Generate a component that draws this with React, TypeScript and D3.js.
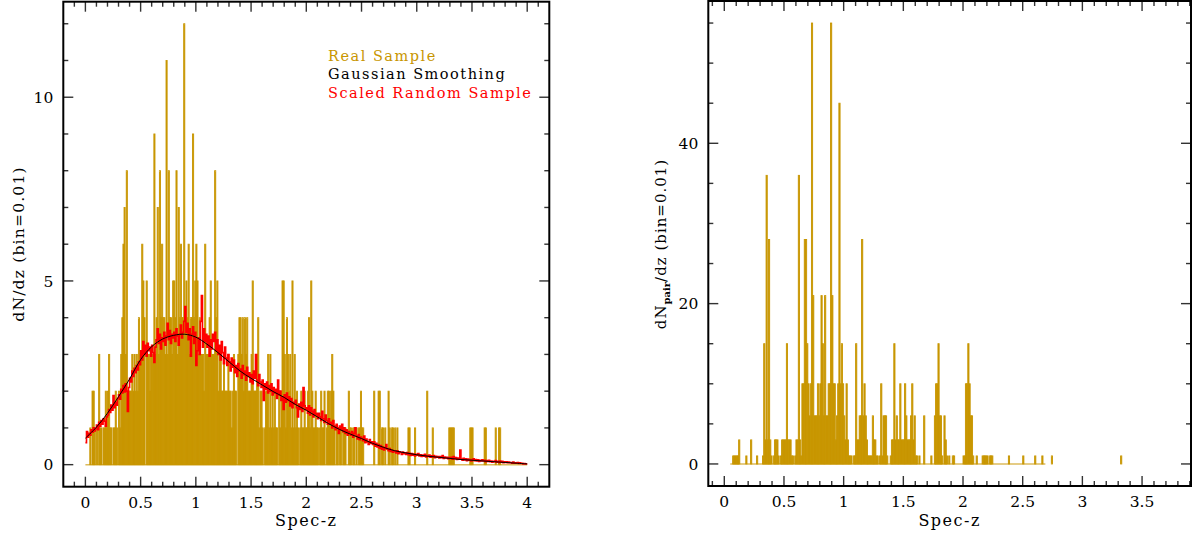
import React from "react";
import * as d3 from "d3";

const W = 1195;
const H = 537;
const BIN = 0.01;
const GOLD = "#c89600";
const GOLD_LIGHT = "#dcbb5c";
const FONT = "'DejaVu Serif', serif";

// Real sample: counts per 0.01 bin, z = 0.00 .. 3.99 (10 bins per row)
const realCounts: number[] = [
  0, 0, 0, 0, 1, 0, 2, 2, 1, 0,
  1, 0, 3, 1, 1, 0, 1, 1, 2, 1,
  2, 3, 1, 1, 0, 1, 1, 2, 1, 0,
  2, 1, 3, 4, 6, 7, 3, 8, 2, 2,
  2, 2, 3, 2, 3, 2, 3, 2, 4, 3,
  3, 6, 5, 4, 0, 5, 3, 3, 2, 3,
  3, 3, 9, 3, 4, 7, 3, 8, 4, 6,
  4, 4, 3, 11, 3, 8, 4, 4, 3, 5,
  5, 4, 8, 3, 7, 4, 6, 4, 4, 12,
  4, 5, 4, 6, 3, 4, 4, 9, 4, 5,
  6, 5, 3, 4, 3, 3, 3, 2, 6, 3,
  3, 3, 4, 5, 3, 3, 3, 8, 4, 5,
  2, 3, 3, 2, 2, 3, 2, 2, 2, 3,
  2, 2, 1, 2, 3, 2, 2, 0, 3, 4,
  4, 3, 4, 2, 4, 3, 4, 2, 2, 2,
  3, 5, 2, 2, 2, 3, 4, 1, 2, 2,
  1, 0, 1, 2, 2, 3, 1, 3, 1, 2,
  1, 2, 1, 1, 0, 2, 1, 2, 5, 5,
  3, 1, 4, 3, 2, 3, 1, 5, 1, 3,
  1, 2, 1, 0, 1, 2, 1, 1, 2, 1,
  1, 2, 4, 1, 5, 2, 1, 1, 2, 1,
  1, 0, 1, 2, 1, 1, 2, 0, 1, 2,
  2, 1, 2, 3, 2, 1, 0, 1, 1, 0,
  1, 1, 0, 1, 1, 1, 0, 0, 2, 1,
  1, 0, 1, 1, 0, 1, 0, 1, 1, 2,
  1, 1, 0, 0, 0, 0, 0, 0, 0, 0,
  0, 2, 0, 0, 0, 2, 2, 0, 1, 1,
  0, 1, 0, 0, 2, 1, 0, 1, 1, 0,
  1, 0, 1, 0, 0, 0, 0, 0, 0, 0,
  0, 0, 1, 1, 0, 0, 0, 0, 1, 0,
  0, 0, 0, 0, 0, 0, 0, 0, 0, 2,
  0, 0, 0, 0, 1, 0, 0, 0, 0, 0,
  0, 0, 0, 0, 0, 0, 0, 0, 0, 1,
  1, 1, 1, 1, 0, 0, 0, 0, 0, 0,
  0, 0, 0, 0, 0, 0, 0, 0, 1, 1,
  1, 0, 0, 0, 0, 0, 0, 0, 0, 0,
  0, 1, 1, 0, 0, 0, 0, 0, 0, 0,
  0, 1, 0, 0, 1, 1, 0, 0, 0, 0,
  0, 0, 0, 0, 0, 0, 0, 0, 0, 0,
  0, 0, 0, 0, 0, 0, 0, 0, 0, 0,
];

// Scaled random sample: value per 0.01 bin, z = 0.00 .. 3.99
const randomScaled: number[] = [
  0.60, 0.90, 0.75, 0.85, 0.80, 0.95, 0.88, 1.00, 0.92, 0.98,
  1.08, 0.95, 1.15, 1.05, 1.20, 1.10, 1.25, 1.18, 1.05, 1.30,
  1.35, 1.50, 1.42, 1.62, 1.48, 1.88, 1.55, 1.70, 1.62, 1.80,
  1.90, 1.78, 2.05, 1.95, 2.15, 1.98, 2.20, 2.00, 1.45, 2.10,
  2.35, 2.25, 2.55, 2.40, 2.62, 2.50, 2.70, 2.58, 2.80, 2.72,
  3.10, 2.85, 3.35, 3.00, 3.25, 2.95, 3.30, 3.10, 3.20, 2.95,
  3.25, 3.05, 2.78, 3.20, 3.40, 3.70, 3.30, 3.55, 3.15, 3.45,
  3.35, 3.60, 3.25, 3.50, 3.85, 3.40, 3.65, 3.30, 3.55, 3.45,
  3.60, 3.35, 3.70, 3.50, 3.25, 3.55, 3.80, 3.45, 3.60, 3.90,
  4.30, 3.60, 3.85, 3.40, 3.70, 2.95, 3.55, 3.75, 3.30, 3.60,
  2.70, 3.10, 3.45, 3.00, 3.90, 4.60, 3.20, 3.70, 3.35, 3.55,
  3.20, 3.50, 2.95, 3.40, 3.15, 3.55, 3.35, 3.60, 3.10, 3.40,
  3.00, 3.25, 2.85, 3.35, 3.05, 2.75, 3.20, 2.90, 2.70, 3.00,
  2.80, 2.55, 2.90, 2.65, 2.85, 2.50, 2.70, 2.40, 2.75, 2.55,
  2.60, 2.35, 2.70, 2.45, 2.55, 2.30, 2.65, 2.40, 2.50, 2.25,
  2.45, 2.20, 2.55, 2.35, 3.00, 2.30, 2.15, 2.45, 2.25, 2.10,
  2.30, 1.75, 2.20, 2.05, 2.25, 1.95, 2.15, 2.00, 2.20, 1.90,
  2.10, 1.95, 2.05, 1.80, 2.30, 1.90, 2.00, 1.75, 1.85, 1.50,
  1.90, 1.70, 1.95, 1.75, 1.85, 1.60, 1.80, 1.55, 1.70, 1.65,
  1.75, 1.55, 1.30, 1.65, 1.50, 1.70, 1.45, 2.10, 1.60, 1.50,
  1.55, 1.40, 1.60, 1.35, 1.55, 1.45, 1.30, 1.50, 1.35, 1.40,
  1.25, 1.40, 1.30, 1.20, 1.45, 1.25, 1.15, 1.35, 1.20, 1.10,
  1.25, 1.10, 1.15, 1.00, 1.20, 1.05, 0.95, 1.10, 1.00, 0.85,
  1.05, 0.95, 1.10, 0.90, 1.00, 0.85, 0.95, 0.80, 0.90, 0.85,
  0.80, 0.90, 0.75, 0.85, 1.00, 0.78, 0.70, 0.82, 0.68, 0.75,
  0.72, 0.65, 0.78, 0.60, 0.70, 0.62, 0.55, 0.68, 0.58, 0.62,
  0.55, 0.62, 0.50, 0.58, 0.48, 0.55, 0.45, 0.52, 0.42, 0.48,
  0.40, 0.46, 0.55, 0.42, 0.38, 0.44, 0.36, 0.40, 0.34, 0.38,
  0.36, 0.32, 0.38, 0.30, 0.35, 0.33, 0.28, 0.34, 0.30, 0.32,
  0.28, 0.33, 0.27, 0.31, 0.25, 0.30, 0.26, 0.29, 0.24, 0.28,
  0.26, 0.30, 0.24, 0.27, 0.22, 0.26, 0.23, 0.28, 0.21, 0.25,
  0.22, 0.26, 0.20, 0.24, 0.21, 0.25, 0.19, 0.23, 0.20, 0.22,
  0.18, 0.22, 0.19, 0.25, 0.17, 0.21, 0.18, 0.20, 0.16, 0.19,
  0.17, 0.20, 0.15, 0.22, 0.16, 0.19, 0.14, 0.18, 0.15, 0.40,
  0.15, 0.12, 0.17, 0.13, 0.16, 0.11, 0.15, 0.12, 0.14, 0.10,
  0.13, 0.16, 0.11, 0.14, 0.10, 0.13, 0.09, 0.12, 0.10, 0.13,
  0.10, 0.12, 0.08, 0.11, 0.09, 0.12, 0.08, 0.10, 0.07, 0.09,
  0.08, 0.11, 0.07, 0.09, 0.06, 0.10, 0.07, 0.09, 0.05, 0.08,
  0.06, 0.08, 0.05, 0.07, 0.05, 0.06, 0.04, 0.07, 0.04, 0.05,
  0.04, 0.06, 0.03, 0.05, 0.03, 0.04, 0.02, 0.03, 0.02, 0.02,
];

// Gaussian smoothing curve
const smoothZ: number[] = [
  0.0, 0.1, 0.2, 0.3, 0.4, 0.5, 0.6, 0.7, 0.8, 0.9, 1.0, 1.1, 1.2, 1.3, 1.4,
  1.5, 1.6, 1.7, 1.8, 1.9, 2.0, 2.1, 2.2, 2.3, 2.4, 2.5, 2.6, 2.7, 2.8, 2.9,
  3.0, 3.1, 3.2, 3.3, 3.4, 3.5, 3.6, 3.7, 3.8, 3.9, 4.0,
];
const smoothV: number[] = [
  0.72, 1.02, 1.40, 1.85, 2.33, 2.86, 3.21, 3.42, 3.52, 3.55, 3.47, 3.28, 3.05,
  2.80, 2.55, 2.35, 2.17, 1.99, 1.83, 1.64, 1.48, 1.30, 1.12, 0.96, 0.83, 0.71,
  0.58, 0.47, 0.38, 0.32, 0.27, 0.23, 0.20, 0.17, 0.14, 0.12, 0.10, 0.08, 0.06,
  0.04, 0.02,
];

// Pair counts: bin index (z / 0.01) and dN_pair in that bin
const pairBins: number[] = [
  7, 8, 9, 10, 11, 12, 18, 22, 27, 32, 33, 34, 35, 36, 37, 38, 39,
  41, 42, 43, 44, 45, 47, 48, 49, 50, 51, 52, 53, 54, 55, 56, 57,
  59, 60, 61, 62, 63, 64, 65, 66, 67, 68, 69, 70, 71, 72, 73, 74, 75, 76, 77, 78, 79,
  80, 81, 82, 83, 84, 85, 86, 87, 88, 89, 90, 91, 92, 93, 94, 95, 96, 97, 98, 99,
  100, 101, 102, 103, 104, 105, 106, 108, 109,
  110, 111, 112, 113, 114, 115, 116, 117, 118, 119, 120, 121, 122, 123, 124, 125, 126, 127, 128,
  130, 131, 132, 133, 134, 135, 136, 139, 140, 141, 142, 143, 144, 145, 146, 147, 148, 149,
  150, 151, 152, 153, 154, 155, 156, 157, 158, 159, 160, 161, 163, 167, 173,
  176, 177, 178, 179, 180, 181, 182, 184, 185, 186, 188, 191, 192,
  200, 201, 202, 203, 204, 205, 206, 207, 208, 211, 216, 217, 218, 219, 220, 222, 223, 224,
  238, 250, 260, 266, 274, 332,
];
const pairCounts: number[] = [
  1, 1, 1, 1, 1, 3, 1, 3, 1, 1, 15, 3, 36, 3, 28, 3, 1,
  1, 3, 3, 3, 1, 1, 3, 3, 3, 3, 15, 3, 3, 3, 1, 1,
  1, 3, 3, 36, 3, 1, 10, 10, 28, 28, 15, 10, 6, 10, 55, 21, 6, 6, 6, 10, 6,
  10, 21, 15, 6, 21, 6, 6, 10, 10, 55, 21, 10, 10, 3, 6, 10, 45, 10, 15, 10,
  6, 3, 10, 3, 1, 1, 1, 1, 1,
  15, 3, 3, 6, 6, 28, 6, 10, 6, 3, 1, 1, 1, 1, 6, 3, 3, 1, 1,
  1, 10, 1, 6, 6, 6, 1, 1, 3, 3, 15, 3, 6, 3, 3, 10, 3, 3,
  3, 10, 6, 3, 3, 3, 6, 10, 3, 6, 1, 1, 1, 6, 1,
  6, 10, 10, 15, 6, 6, 1, 6, 3, 1, 1, 1, 1,
  1, 1, 10, 10, 15, 10, 6, 6, 1, 1, 1, 1, 1, 1, 1, 1, 1, 1,
  1, 1, 1, 1, 1, 1,
];
const pairBaseline: [number, number] = [0.05, 2.69];

const leftXMajor = [0, 0.5, 1, 1.5, 2, 2.5, 3, 3.5, 4];
const leftYMajor = [0, 5, 10];
const rightXMajor = [0, 0.5, 1, 1.5, 2, 2.5, 3, 3.5];
const rightYMajor = [0, 20, 40];

type PanelProps = {
  x0: number; x1: number; y0: number; y1: number;
  xDomain: [number, number]; yDomain: [number, number];
  xMajor: number[]; xMinorStep: number;
  yMajor: number[]; yMinorStep: number;
  children: (xs: d3.ScaleLinear<number, number>, ys: d3.ScaleLinear<number, number>) => React.ReactNode;
};

function fmt(v: number) {
  return String(v);
}

function Panel(p: PanelProps) {
  const xs = d3.scaleLinear().domain(p.xDomain).range([p.x0, p.x1]);
  const ys = d3.scaleLinear().domain(p.yDomain).range([p.y1, p.y0]);
  const eps = 1e-6;
  const xMinor: number[] = [];
  for (let v = Math.ceil(p.xDomain[0] / p.xMinorStep) * p.xMinorStep; v < p.xDomain[1] - eps; v += p.xMinorStep) {
    const r = Math.round(v / p.xMinorStep) * p.xMinorStep;
    if (r > p.xDomain[0] + eps && !p.xMajor.some((m) => Math.abs(m - r) < eps)) xMinor.push(r);
  }
  const yMinor: number[] = [];
  for (let v = Math.ceil(p.yDomain[0] / p.yMinorStep) * p.yMinorStep; v < p.yDomain[1] - eps; v += p.yMinorStep) {
    const r = Math.round(v / p.yMinorStep) * p.yMinorStep;
    if (r > p.yDomain[0] + eps && !p.yMajor.some((m) => Math.abs(m - r) < eps)) yMinor.push(r);
  }
  const tickColor = "#333";
  const MAJ = 10;
  const MIN = 5;
  return (
    <g>
      {p.children(xs, ys)}
      {p.xMajor.map((v) => (
        <g key={"xM" + v}>
          <line x1={xs(v)} x2={xs(v)} y1={p.y1} y2={p.y1 - MAJ} stroke={tickColor} strokeWidth={1.4} />
          <line x1={xs(v)} x2={xs(v)} y1={p.y0} y2={p.y0 + MAJ} stroke={tickColor} strokeWidth={1.4} />
          <text x={xs(v)} y={p.y1 + 21} textAnchor="middle" fontFamily={FONT} fontSize={15.5} fill="#000">
            {fmt(v)}
          </text>
        </g>
      ))}
      {xMinor.map((v) => (
        <g key={"xm" + v}>
          <line x1={xs(v)} x2={xs(v)} y1={p.y1} y2={p.y1 - MIN} stroke={tickColor} strokeWidth={1.4} />
          <line x1={xs(v)} x2={xs(v)} y1={p.y0} y2={p.y0 + MIN} stroke={tickColor} strokeWidth={1.4} />
        </g>
      ))}
      {p.yMajor.map((v) => (
        <g key={"yM" + v}>
          <line x1={p.x0} x2={p.x0 + MAJ} y1={ys(v)} y2={ys(v)} stroke={tickColor} strokeWidth={1.4} />
          <line x1={p.x1} x2={p.x1 - MAJ} y1={ys(v)} y2={ys(v)} stroke={tickColor} strokeWidth={1.4} />
          <text x={p.x0 - 10} y={ys(v) + 5.6} textAnchor="end" fontFamily={FONT} fontSize={15.5} fill="#000">
            {fmt(v)}
          </text>
        </g>
      ))}
      {yMinor.map((v) => (
        <g key={"ym" + v}>
          <line x1={p.x0} x2={p.x0 + MIN} y1={ys(v)} y2={ys(v)} stroke={tickColor} strokeWidth={1.4} />
          <line x1={p.x1} x2={p.x1 - MIN} y1={ys(v)} y2={ys(v)} stroke={tickColor} strokeWidth={1.4} />
        </g>
      ))}
      <rect x={p.x0} y={p.y0} width={p.x1 - p.x0} height={p.y1 - p.y0} fill="none" stroke="#000" strokeWidth={2} />
      <text
        x={(p.x0 + p.x1) / 2}
        y={526}
        textAnchor="middle"
        fontFamily={FONT}
        fontSize={16}
        letterSpacing={1.5}
        fill="#000"
      >
        Spec-z
      </text>
    </g>
  );
}

export default function App() {
  const leftPanel = (xs: d3.ScaleLinear<number, number>, ys: d3.ScaleLinear<number, number>) => {
    const bw = xs(BIN) - xs(0);
    const redPts: [number, number][] = randomScaled.map((v, i) => [i * BIN, v]);
    redPts.push([randomScaled.length * BIN, randomScaled[randomScaled.length - 1]]);
    const redLine = d3
      .line<[number, number]>()
      .x((d) => xs(d[0]))
      .y((d) => ys(d[1]))
      .curve(d3.curveStepAfter)(redPts);
    const blackLine = d3
      .line<number>()
      .x((_, i) => xs(smoothZ[i]))
      .y((d) => ys(d))
      .curve(d3.curveCatmullRom)(smoothV);
    return (
      <g>
        <line x1={xs(0)} x2={xs(realCounts.length * BIN)} y1={ys(0)} y2={ys(0)} stroke={GOLD_LIGHT} strokeWidth={1.5} />
        {realCounts.map((v, i) =>
          v > 0 ? (
            <rect
              key={i}
              x={xs(i * BIN)}
              width={bw}
              y={ys(v)}
              height={ys(0) - ys(v)}
              fill={GOLD}
              stroke={GOLD}
              strokeWidth={0.9}
            />
          ) : null
        )}
        <path d={redLine || ""} fill="none" stroke="#ff0000" strokeWidth={1.6} />
        <path d={blackLine || ""} fill="none" stroke="#000" strokeWidth={1} />
        <g fontFamily={FONT} fontSize={14.5} letterSpacing={1.5}>
          <text x={328} y={60.5} fill={GOLD}>Real Sample</text>
          <text x={328} y={79} fill="#000">Gaussian Smoothing</text>
          <text x={328} y={97.5} fill="#ff0000">Scaled Random Sample</text>
        </g>
      </g>
    );
  };

  const rightPanel = (xs: d3.ScaleLinear<number, number>, ys: d3.ScaleLinear<number, number>) => {
    const bw = xs(BIN) - xs(0);
    return (
      <g>
        <line x1={xs(pairBaseline[0])} x2={xs(pairBaseline[1])} y1={ys(0)} y2={ys(0)} stroke={GOLD_LIGHT} strokeWidth={1.5} />
        {pairBins.map((b, i) => (
          <rect
            key={i}
            x={xs(b * BIN)}
            width={bw}
            y={ys(pairCounts[i])}
            height={ys(0) - ys(pairCounts[i])}
            fill={GOLD}
            stroke={GOLD}
            strokeWidth={0.9}
          />
        ))}
      </g>
    );
  };

  return (
    <svg
      width={W}
      height={H}
      viewBox={`0 0 ${W} ${H}`}
      style={{ position: "absolute", left: 0, top: 0, background: "#fff" }}
    >
      <rect x={0} y={0} width={W} height={H} fill="#fff" />
      <Panel
        x0={63.3}
        x1={549.3}
        y0={1.7}
        y1={486.7}
        xDomain={[-0.2, 4.2]}
        yDomain={[-0.6, 12.6]}
        xMajor={leftXMajor}
        xMinorStep={0.1}
        yMajor={leftYMajor}
        yMinorStep={1}
      >
        {leftPanel}
      </Panel>
      <Panel
        x0={708.3}
        x1={1191}
        y0={1}
        y1={486}
        xDomain={[-0.134, 3.91]}
        yDomain={[-2.75, 57.75]}
        xMajor={rightXMajor}
        xMinorStep={0.1}
        yMajor={rightYMajor}
        yMinorStep={5}
      >
        {rightPanel}
      </Panel>
      <text
        transform="translate(24,244) rotate(-90)"
        textAnchor="middle"
        fontFamily={FONT}
        fontSize={15.5}
        letterSpacing={1.2}
        fill="#000"
      >
        dN/dz (bin=0.01)
      </text>
      <text
        transform="translate(666,244) rotate(-90)"
        textAnchor="middle"
        fontFamily={FONT}
        fontSize={15}
        letterSpacing={1}
        fill="#000"
      >
        dN
        <tspan dy={4} fontSize={10} letterSpacing={0} fontWeight="bold">pair</tspan>
        <tspan dy={-4}>/dz (bin=0.01)</tspan>
      </text>
    </svg>
  );
}
